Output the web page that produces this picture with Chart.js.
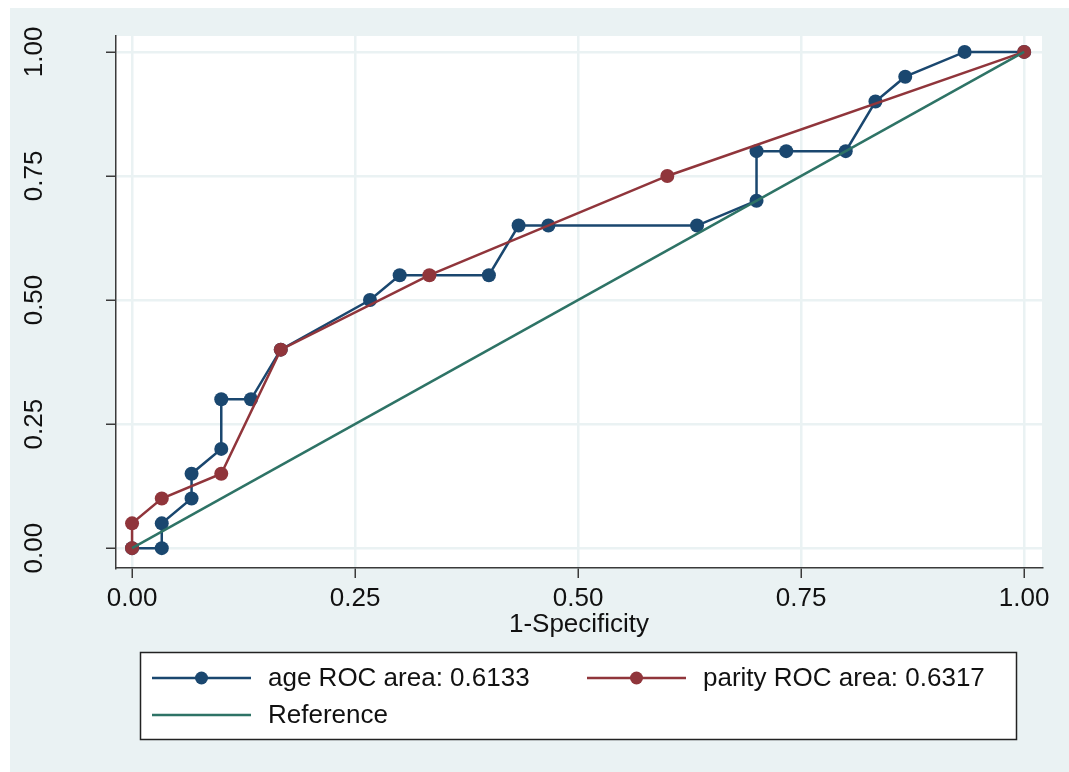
<!DOCTYPE html>
<html>
<head>
<meta charset="utf-8">
<title>ROC curves: age vs parity</title>
<script src="https://cdn.jsdelivr.net/npm/chart.js@4/dist/chart.umd.min.js"></script>
<style>
  html, body { margin: 0; padding: 0; background: #ffffff; }
  canvas { display: block; }
</style>
</head>
<body>
<canvas id="roc" width="1069" height="772"></canvas>
<script>
// ROC curve for age: 1-specificity (x) and sensitivity (y)
const ageFpr = [0, 0.0333, 0.0333, 0.0667, 0.0667, 0.1, 0.1, 0.1333, 0.1667, 0.2667, 0.3, 0.4,
                0.4333, 0.4667, 0.6333, 0.7, 0.7, 0.7333, 0.8, 0.8333, 0.8667, 0.9333, 1];
const ageTpr = [0, 0, 0.05, 0.1, 0.15, 0.2, 0.3, 0.3, 0.4, 0.5, 0.55, 0.55,
                0.65, 0.65, 0.65, 0.7, 0.8, 0.8, 0.8, 0.9, 0.95, 1, 1];

// ROC curve for parity
const parityFpr = [0, 0, 0.0333, 0.1, 0.1667, 0.3333, 0.6, 1];
const parityTpr = [0, 0.05, 0.1, 0.15, 0.4, 0.55, 0.75, 1];

// Chance diagonal
const refFpr = [0, 1];
const refTpr = [0, 1];

// Areas under each curve
const seriesNames = ['age', 'parity'];
const rocAreas = [0.6133, 0.6317];

// Axis ticks
const axisTicks = [0, 0.25, 0.5, 0.75, 1];

const toPoints = (xs, ys) => xs.map((x, i) => ({ x: x, y: ys[i] }));

const FONT = '"Liberation Sans", Arial, Helvetica, sans-serif';
const NAVY = '#1A476F';
const MAROON = '#90353B';
const TEAL = '#2E7366';
const AXIS = '#3a3a3a';
const GRID = '#EAF2F3';

// Paints the outer background and the white plot region
const backdrop = {
  id: 'backdrop',
  beforeDraw(chart) {
    const { ctx, width, height, chartArea: a } = chart;
    ctx.save();
    ctx.fillStyle = '#ffffff';
    ctx.fillRect(0, 0, width, height);
    ctx.fillStyle = '#EAF2F3';
    ctx.fillRect(10, 8, width - 10, height - 8);
    ctx.fillStyle = '#ffffff';
    ctx.fillRect(a.left, a.top, a.right - a.left, a.bottom - a.top);
    ctx.restore();
  }
};

// Boxed two-column legend under the axis title
const boxLegend = {
  id: 'boxLegend',
  afterDraw(chart) {
    const { ctx } = chart;
    const ds = chart.data.datasets;
    const slots = [
      { x: 152, y: 678 },
      { x: 587, y: 678 },
      { x: 152, y: 715 }
    ];
    ctx.save();
    ctx.fillStyle = '#ffffff';
    ctx.fillRect(140, 652, 876, 87);
    ctx.strokeStyle = '#222222';
    ctx.lineWidth = 1.5;
    ctx.strokeRect(140.5, 652.5, 876, 87);
    ds.forEach((d, i) => {
      const s = slots[i];
      ctx.strokeStyle = d.borderColor;
      ctx.lineWidth = 2.5;
      ctx.beginPath();
      ctx.moveTo(s.x, s.y);
      ctx.lineTo(s.x + 99, s.y);
      ctx.stroke();
      if (d.pointRadius > 0) {
        ctx.fillStyle = d.pointBackgroundColor;
        ctx.beginPath();
        ctx.arc(s.x + 49.5, s.y, 6.5, 0, Math.PI * 2);
        ctx.fill();
      }
      ctx.fillStyle = '#111111';
      ctx.font = '26px ' + FONT;
      ctx.textBaseline = 'middle';
      ctx.textAlign = 'left';
      ctx.fillText(d.label, s.x + 116, s.y + 1);
    });
    ctx.restore();
  }
};

const fixedTicks = (scale) => {
  scale.ticks = axisTicks.map(v => ({ value: v }));
};

new Chart(document.getElementById('roc'), {
  type: 'line',
  data: {
    datasets: [
      {
        label: seriesNames[0] + ' ROC area: ' + rocAreas[0].toFixed(4),
        data: toPoints(ageFpr, ageTpr),
        borderColor: NAVY,
        backgroundColor: NAVY,
        pointBackgroundColor: NAVY,
        pointBorderColor: NAVY,
        borderWidth: 2.5,
        pointRadius: 7,
        pointBorderWidth: 0,
        tension: 0,
        order: 2
      },
      {
        label: seriesNames[1] + ' ROC area: ' + rocAreas[1].toFixed(4),
        data: toPoints(parityFpr, parityTpr),
        borderColor: MAROON,
        backgroundColor: MAROON,
        pointBackgroundColor: MAROON,
        pointBorderColor: MAROON,
        borderWidth: 2.5,
        pointRadius: 7,
        pointBorderWidth: 0,
        tension: 0,
        order: 1
      },
      {
        label: 'Reference',
        data: toPoints(refFpr, refTpr),
        borderColor: TEAL,
        backgroundColor: TEAL,
        pointBackgroundColor: TEAL,
        borderWidth: 2.5,
        pointRadius: 0,
        tension: 0,
        order: 0
      }
    ]
  },
  options: {
    responsive: false,
    animation: false,
    devicePixelRatio: 1,
    clip: false,
    layout: { padding: { top: 36, right: 27, left: 0, bottom: 0 } },
    plugins: {
      legend: { display: false },
      tooltip: { enabled: false }
    },
    scales: {
      x: {
        type: 'linear',
        min: -0.018,
        max: 1.02,
        afterBuildTicks: fixedTicks,
        afterFit: (s) => { s.height = 204; s.paddingLeft = 0; s.paddingRight = 0; },
        border: { display: true, color: AXIS, width: 1.5 },
        grid: { color: GRID, lineWidth: 2.5, tickColor: AXIS, tickWidth: 1.5, tickLength: 10, drawTicks: true },
        ticks: {
          color: '#111111',
          font: { family: FONT, size: 26, lineHeight: 1.2 },
          padding: 5,
          maxRotation: 0,
          minRotation: 0,
          callback: (v) => Number(v).toFixed(2)
        },
        title: {
          display: true,
          text: '1-Specificity',
          color: '#111111',
          font: { family: FONT, size: 26, lineHeight: 1.2 },
          padding: { top: 0, bottom: 132 }
        }
      },
      y: {
        type: 'linear',
        min: -0.04,
        max: 1.032,
        afterBuildTicks: fixedTicks,
        afterFit: (s) => { s.width = 116; s.paddingTop = 0; s.paddingBottom = 0; },
        border: { display: true, color: AXIS, width: 1.5 },
        grid: { color: GRID, lineWidth: 2.5, tickColor: AXIS, tickWidth: 1.5, tickLength: 10, drawTicks: true },
        ticks: {
          color: '#111111',
          font: { family: FONT, size: 26, lineHeight: 1.2 },
          padding: 46,
          minRotation: 90,
          maxRotation: 90,
          crossAlign: 'center',
          callback: (v) => Number(v).toFixed(2)
        }
      }
    }
  },
  plugins: [backdrop, boxLegend]
});
</script>
</body>
</html>
